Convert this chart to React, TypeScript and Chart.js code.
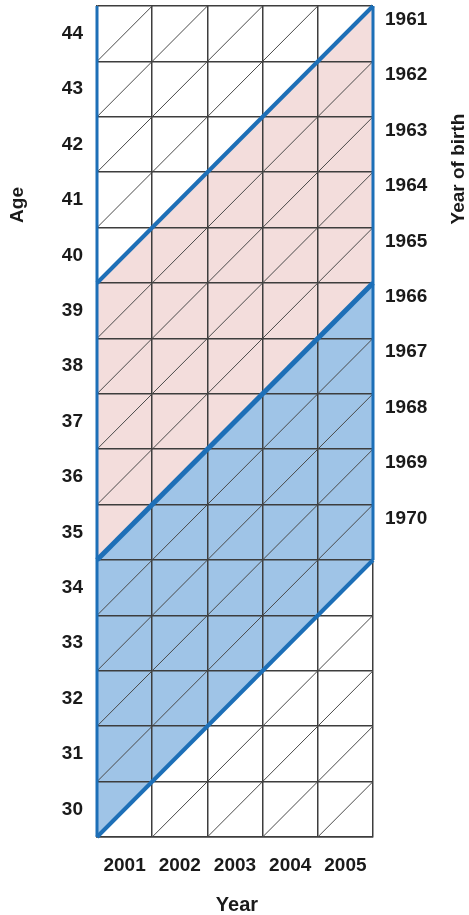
import React, { useEffect, useRef } from "react";
import { Chart, registerables } from "chart.js";

Chart.register(...registerables);

// ---- data ----
const YEARS = [2001, 2002, 2003, 2004, 2005];
const AGES = [30, 31, 32, 33, 34, 35, 36, 37, 38, 39, 40, 41, 42, 43, 44];
const BIRTH_YEARS = [1961, 1962, 1963, 1964, 1965, 1966, 1967, 1968, 1969, 1970];
const BIRTH_LABEL_AGES = [44, 43, 42, 41, 40, 39, 38, 37, 36, 35];
// age at the start of the first year for the three highlighted cohort boundaries
const COHORT_BOUNDARY_AGES = [39.5, 34.5, 29.5];

// ---- styles ----
const BLUE_LINE = "#1d6fb7";
const BLUE_FILL = "#9fc4e7";
const PINK_FILL = "#f3dddc";
const GRID = "#3d3d3d";
const DIAG = "#4a4a4a";
const TEXT = "#1a1a1a";
const FONT = '"Liberation Sans", Arial, sans-serif';

const X_MIN = YEARS[0] - 0.5;
const X_MAX = YEARS[YEARS.length - 1] + 0.5;
const Y_MIN = AGES[0] - 0.5;
const Y_MAX = AGES[AGES.length - 1] + 0.5;
const SPAN = X_MAX - X_MIN;

const titlePlugin = {
  id: "lexisTitles",
  afterDraw(chart: any) {
    const ctx = chart.ctx;
    ctx.save();
    ctx.fillStyle = TEXT;
    ctx.font = `bold 19px ${FONT}`;
    ctx.textAlign = "center";
    ctx.textBaseline = "middle";
    ctx.save();
    ctx.translate(18, 205);
    ctx.rotate(-Math.PI / 2);
    ctx.fillText("Age", 0, 0);
    ctx.restore();
    ctx.save();
    ctx.translate(459, 169);
    ctx.rotate(-Math.PI / 2);
    ctx.fillText("Year of birth", 0, 0);
    ctx.restore();
    const a = chart.chartArea;
    ctx.font = `bold 20px ${FONT}`;
    ctx.fillText("Year", (a.left + a.right) / 2 + 2, 905);
    ctx.restore();
  },
};

export default function App() {
  const ref = useRef<HTMLCanvasElement | null>(null);

  useEffect(() => {
    if (!ref.current) return;

    const borders = [
      {
        data: [
          { x: X_MIN, y: Y_MIN },
          { x: X_MIN, y: Y_MAX },
        ],
        borderColor: BLUE_LINE,
        borderWidth: 3,
        showLine: true,
        pointRadius: 0,
        fill: false,
        clip: 6,
      },
      {
        data: [
          { x: X_MAX, y: COHORT_BOUNDARY_AGES[1] },
          { x: X_MAX, y: Y_MAX },
        ],
        borderColor: BLUE_LINE,
        borderWidth: 3,
        showLine: true,
        pointRadius: 0,
        fill: false,
        clip: 6,
      },
    ];

    const thick = COHORT_BOUNDARY_AGES.map((a, i) => ({
      data: [
        { x: X_MIN, y: a },
        { x: X_MAX, y: a + SPAN },
      ],
      borderColor: BLUE_LINE,
      borderWidth: i === 1 ? 5 : 4,
      backgroundColor: i === 1 ? PINK_FILL : BLUE_FILL,
      fill: i === 0 ? false : "-1",
      showLine: true,
      pointRadius: 0,
      clip: 6,
    }));

    const diagonals: any[] = [];
    for (let k = AGES[0] - (YEARS.length - 1); k <= AGES[AGES.length - 1]; k++) {
      const start = k - 0.5;
      diagonals.push({
        data: [
          { x: X_MIN, y: start },
          { x: X_MAX, y: start + SPAN },
        ],
        borderColor: DIAG,
        borderWidth: 1,
        showLine: true,
        pointRadius: 0,
        fill: false,
      });
    }

    const fixVertical = (w: number) => (s: any) => {
      s.width = w;
      s.paddingTop = 0;
      s.paddingBottom = 0;
    };

    const chart = new Chart(ref.current, {
      type: "scatter",
      data: { datasets: [...borders, ...thick, ...diagonals] as any },
      plugins: [titlePlugin],
      options: {
        animation: false,
        responsive: true,
        maintainAspectRatio: false,
        layout: { padding: { top: 6, left: 0, right: 0, bottom: 0 } },
        plugins: {
          legend: { display: false },
          tooltip: { enabled: false },
          filler: { drawTime: "beforeDraw" } as any,
        },
        scales: {
          x: {
            type: "linear",
            position: "bottom",
            min: X_MIN,
            max: X_MAX,
            afterBuildTicks: (s: any) => {
              s.ticks = YEARS.map((v) => ({ value: v }));
            },
            afterFit: (s: any) => {
              s.height = 78;
              s.paddingLeft = 0;
              s.paddingRight = 0;
            },
            ticks: {
              callback: (v: any) => String(v),
              font: { family: FONT, size: 19, weight: "bold" },
              color: TEXT,
              padding: 17,
              maxRotation: 0,
              autoSkip: false,
            },
            grid: { offset: true, color: GRID, lineWidth: 1.5, drawTicks: false },
            border: { color: GRID, width: 1.5 },
          },
          y: {
            type: "linear",
            position: "left",
            min: Y_MIN,
            max: Y_MAX,
            afterBuildTicks: (s: any) => {
              s.ticks = AGES.map((v) => ({ value: v }));
            },
            afterFit: fixVertical(97),
            ticks: {
              callback: (v: any) => String(v),
              font: { family: FONT, size: 19, weight: "bold" },
              color: TEXT,
              padding: 14,
              autoSkip: false,
            },
            grid: { offset: true, color: GRID, lineWidth: 1.5, drawTicks: false },
            border: { color: GRID, width: 1.5 },
          },
          y2: {
            type: "linear",
            position: "right",
            min: Y_MIN,
            max: Y_MAX,
            afterBuildTicks: (s: any) => {
              s.ticks = BIRTH_LABEL_AGES.map((a) => ({ value: a + 0.25 }));
            },
            afterFit: fixVertical(96),
            ticks: {
              callback: (_v: any, i: number) => String(BIRTH_YEARS[i]),
              font: { family: FONT, size: 19, weight: "bold" },
              color: TEXT,
              padding: 12,
              autoSkip: false,
            },
            grid: { display: false, drawTicks: false },
            border: { display: false },
          },
        },
      },
    });

    return () => chart.destroy();
  }, []);

  return (
    <div style={{ position: "fixed", left: 0, top: 0, width: 469, height: 915, background: "#fff" }}>
      <canvas ref={ref} />
    </div>
  );
}
